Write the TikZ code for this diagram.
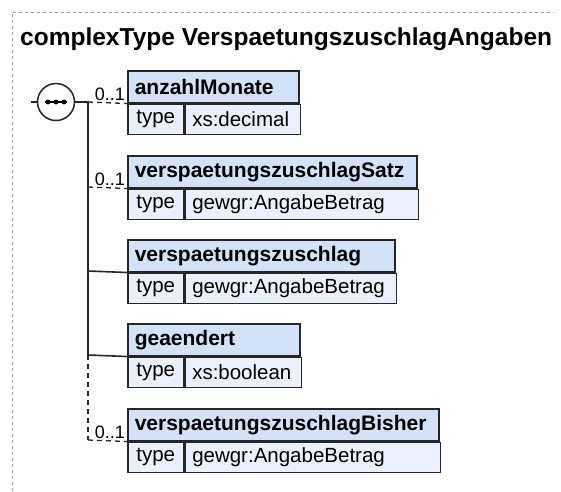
\documentclass[tikz,border=0pt]{standalone}
\usepackage{fontspec}
\setmainfont{Liberation Sans}
\definecolor{hdrblue}{HTML}{D4E2F7}
\definecolor{typeblue}{HTML}{EAF1FC}
\definecolor{framegray}{HTML}{A0A0A0}
\begin{document}
\begin{tikzpicture}[x=1pt,y=-1pt,
  elname/.style={draw=black!85,line width=1.5pt,fill=hdrblue,anchor=north west,minimum height=32pt,inner xsep=7pt,inner ysep=0pt,align=left,font=\fontsize{21}{24}\selectfont\bfseries},
  typekey/.style={draw=black!85,line width=1.5pt,fill=typeblue,anchor=north west,minimum width=56pt,minimum height=30pt,inner xsep=6pt,inner ysep=0pt,font=\fontsize{20.5}{24}\selectfont},
  typeval/.style={typekey,align=left,inner xsep=7pt},
  occurs/.style={anchor=base east,inner sep=0pt,xshift=-2pt,yshift=3pt,font=\fontsize{18}{20}\selectfont},
  link/.style={draw=black!85,line width=1.6pt},
  optlink/.style={draw=black!85,line width=1.3pt,dash pattern=on 5pt off 4pt}]
\useasboundingbox (0,0) rectangle (561,491);

\draw[framegray,dashed] (12,491) -- (12,12) -- (554,12);
\node[anchor=base west,inner sep=0pt,font=\fontsize{24.5}{28}\selectfont\bfseries] (title) at (20,45) {complexType VerspaetungszuschlagAngaben};

% sequence
\node[draw=black!85,circle,fill=white,line width=1.5pt,minimum size=37pt,inner sep=0pt] (seq) at (56,102) {};
\coordinate (in) at (31,102);
\draw[line width=1.3pt] (45,102) -- (67,102);
\foreach \dx in {48,56,64} \fill (\dx,102) circle (2.4pt);

\coordinate (t1) at (88,102);
\coordinate (t2) at (88,187);
\coordinate (t3) at (88,271);
\coordinate (t4) at (88,355);
\coordinate (t5) at (88,440);

% elements
\node[elname,text width=157pt] (anzahl) at (127,70) {anzahlMonate};
\node[typekey] (anzahlkey) at (anzahl.south west) {type};
\node[typeval,text width=101pt] (anzahlval) at (anzahlkey.north east) {xs:decimal};

\node[elname,text width=275pt] (satz) at (127,155) {verspaetungszuschlagSatz};
\node[typekey] (satzkey) at (satz.south west) {type};
\node[typeval,text width=219pt] (satzval) at (satzkey.north east) {gewgr:AngabeBetrag};

\node[elname,text width=253pt] (zuschlag) at (127,239) {verspaetungszuschlag};
\node[typekey] (zuschlagkey) at (zuschlag.south west) {type};
\node[typeval,text width=197pt] (zuschlagval) at (zuschlagkey.north east) {gewgr:AngabeBetrag};

\node[elname,text width=158pt] (geaendert) at (127,323) {geaendert};
\node[typekey] (geaendertkey) at (geaendert.south west) {type};
\node[typeval,text width=102pt] (geaendertval) at (geaendertkey.north east) {xs:boolean};

\node[elname,text width=297pt] (bisher) at (127,408) {verspaetungszuschlagBisher};
\node[typekey] (bisherkey) at (bisher.south west) {type};
\node[typeval,text width=241pt] (bisherval) at (bisherkey.north east) {gewgr:AngabeBetrag};

% connectors
\path[link] (in) -- (seq.west);
\path[link] (seq.east) -- (t1) -- (t4);
\path[optlink] (t4) -- (t5);
\path[optlink] (t1) -- (anzahl.south west);
\path[optlink] (t2) -- (satz.south west);
\path[link] (t3) -- (zuschlag.south west);
\path[link] (t4) -- (geaendert.south west);
\path[optlink] (t5) -- (bisher.south west);

\node[occurs] (anzahlocc) at (anzahl.south west) {0..1};
\node[occurs] (satzocc) at (satz.south west) {0..1};
\node[occurs] (bisherocc) at (bisher.south west) {0..1};
\end{tikzpicture}
\end{document}
